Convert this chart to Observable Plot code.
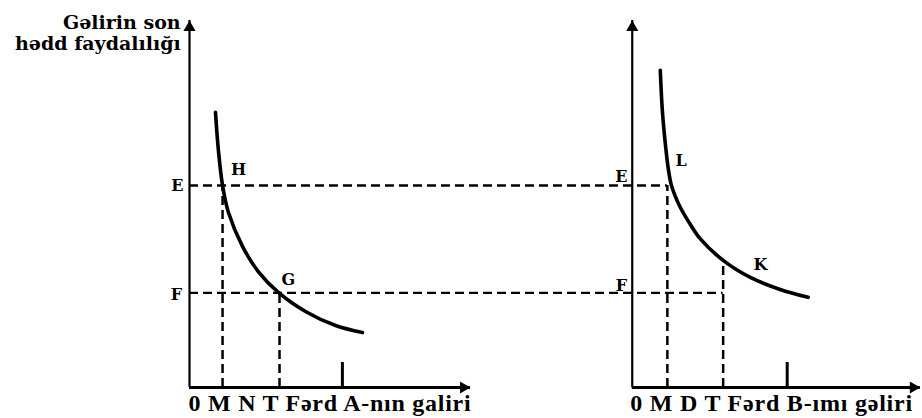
<!DOCTYPE html>
<html><head><meta charset="utf-8">
<script src="https://cdn.jsdelivr.net/npm/d3@7"></script>
<script src="https://cdn.jsdelivr.net/npm/@observablehq/plot@0.6"></script>
<style>body{margin:0;background:#fff}#chart{width:922px;height:418px}</style>
</head><body><div id="chart"></div>
<script>
// ---- data (income units / marginal-utility units) ----
const panels = ["A", "B"];
const panelOffset = [0, 15];            // panel B drawn to the right of panel A
const axisTop = 12.5;
const axisEnd = [9.52, 9.76];
const levelNames = ["E", "F"];
const levelValues = [6.88, 3.22];
const curveAx = [0.88, 0.98, 1.12, 1.32, 1.80, 2.33, 3.01, 3.93, 4.95, 5.86];
const curveAy = [9.37, 8.07, 6.88, 5.96, 4.80, 3.95, 3.24, 2.59, 2.11, 1.87];
const curveBx = [0.95, 1.02, 1.12, 1.22, 1.32, 1.46, 1.63, 1.97, 2.30, 3.08, 4.00, 5.01, 5.96];
const curveBy = [10.80, 9.43, 8.31, 7.46, 6.91, 6.51, 6.13, 5.55, 5.07, 4.33, 3.75, 3.34, 3.07];
const incomeA = {M: 1.12, T: 3.05};
const incomeB = {M: 1.19, T: 3.08};
const curveBatT = 4.33;
const fardIncome = [5.18, 5.25];
const fardTick = 0.85;
const pointNames = ["H", "G", "L", "K"];
const pointPanel = ["A", "A", "B", "B"];
const pointX = [1.66, 3.35, 1.66, 4.34];
const pointY = [7.42, 3.68, 7.73, 4.19];
const levelLabelPanel = ["A", "A", "B", "B"];
const levelLabelName = ["E", "F", "E", "F"];
const levelLabelX = [-0.41, -0.44, -0.37, -0.37];
const levelLabelY = [6.88, 3.17, 7.19, 3.47];
const tickLabelsA = ["0", "M", "N", "T", "Fərd", "A-nın galiri"];
const tickLabelsB = ["0", "M", "D", "T", "Fərd", "B-ımı gəliri"];
const titleLines = ["Gəlirin son", "hədd faydalılığı"];
const titleY = [12.43, 11.69];

// ---- tables built from the arrays ----
const off = p => panelOffset[panels.indexOf(p)];
const curves = [
  ...curveAx.map((x, i) => ({panel: "A", x: x + off("A"), y: curveAy[i]})),
  ...curveBx.map((x, i) => ({panel: "B", x: x + off("B"), y: curveBy[i]}))
];
const E = levelValues[0], F = levelValues[1];
const hDash = [
  {y: E, x1: 0, x2: off("B") + incomeB.M},
  {y: F, x1: 0, x2: off("B") + incomeB.T}
];
const vDash = [
  {x: off("A") + incomeA.M, y1: 0, y2: E},
  {x: off("A") + incomeA.T, y1: 0, y2: F},
  {x: off("B") + incomeB.M, y1: 0, y2: E},
  {x: off("B") + incomeB.T, y1: 0, y2: curveBatT}
];
const yAxes = panels.map(p => ({x: off(p), y1: 0, y2: axisTop}));
const xAxes = panels.map((p, i) => ({y: 0, x1: off(p), x2: off(p) + axisEnd[i]}));
const yTips = panels.map(p => ({x: off(p), y: axisTop}));
const xTips = panels.map((p, i) => ({x: off(p) + axisEnd[i], y: 0}));
const fard = panels.map((p, i) => ({x: off(p) + fardIncome[i], y1: 0, y2: fardTick}));
const points = pointNames.map((n, i) => ({name: n, x: off(pointPanel[i]) + pointX[i], y: pointY[i]}));
const levelLabels = levelLabelName.map((n, i) => ({name: n, x: off(levelLabelPanel[i]) + levelLabelX[i], y: levelLabelY[i]}));
const bottom = [
  {text: tickLabelsA.join(" "), x: off("A") - 0.03, y: -0.555},
  {text: tickLabelsB.join(" "), x: off("B") - 0.07, y: -0.555}
];
const titles = titleLines.map((t, i) => ({text: t, x: -0.3, y: titleY[i]}));

const serif = "'DejaVu Serif', serif";
const chart = Plot.plot({
  width: 922, height: 418,
  marginLeft: 189, marginRight: 1, marginTop: 20, marginBottom: 31,
  x: {domain: [0, 24.8], axis: null},
  y: {domain: [0, 12.5], axis: null},
  style: {background: "#fff", overflow: "visible"},
  marks: [
    Plot.ruleY(hDash, {y: "y", x1: "x1", x2: "x2", stroke: "#000", strokeWidth: 2.3, strokeDasharray: "9,5"}),
    Plot.ruleX(vDash, {x: "x", y1: "y1", y2: "y2", stroke: "#000", strokeWidth: 2.5, strokeDasharray: "9,5"}),
    Plot.ruleX(yAxes, {x: "x", y1: "y1", y2: "y2", stroke: "#000", strokeWidth: 2.2}),
    Plot.ruleY(xAxes, {y: "y", x1: "x1", x2: "x2", stroke: "#000", strokeWidth: 3}),
    Plot.ruleX(fard, {x: "x", y1: "y1", y2: "y2", stroke: "#000", strokeWidth: 3}),
    Plot.dot(yTips, {x: "x", y: "y", symbol: "triangle", r: 4.5, fill: "#000", stroke: null, dy: 7}),
    Plot.dot(xTips, {x: "x", y: "y", symbol: "triangle", r: 4.5, fill: "#000", stroke: null, rotate: 90, dx: -7}),
    Plot.line(curves, {x: "x", y: "y", z: "panel", curve: "catmull-rom", stroke: "#000", strokeWidth: 3.6, strokeLinecap: "round"}),
    Plot.text(points, {x: "x", y: "y", text: "name", fontFamily: serif, fontWeight: "bold", fontSize: 16, fill: "#000"}),
    Plot.text(levelLabels, {x: "x", y: "y", text: "name", fontFamily: serif, fontWeight: "bold", fontSize: 16, fill: "#000"}),
    Plot.text(titles, {x: "x", y: "y", text: "text", textAnchor: "end", fontFamily: serif, fontWeight: "bold", fontSize: 19, fill: "#000"}),
    Plot.text(bottom, {x: "x", y: "y", text: "text", textAnchor: "start", fontFamily: "'Liberation Serif', serif", fontWeight: "bold", fontSize: 24, fill: "#000"})
  ]
});
document.getElementById("chart").append(chart);
// stretch the two axis captions to the width they occupy in the original
const bottomTexts = new Set(bottom.map(d => d.text));
d3.select(chart).selectAll("text")
  .filter(function() { return bottomTexts.has(this.textContent); })
  .attr("textLength", 282).attr("lengthAdjust", "spacing");
</script>
</body></html>
